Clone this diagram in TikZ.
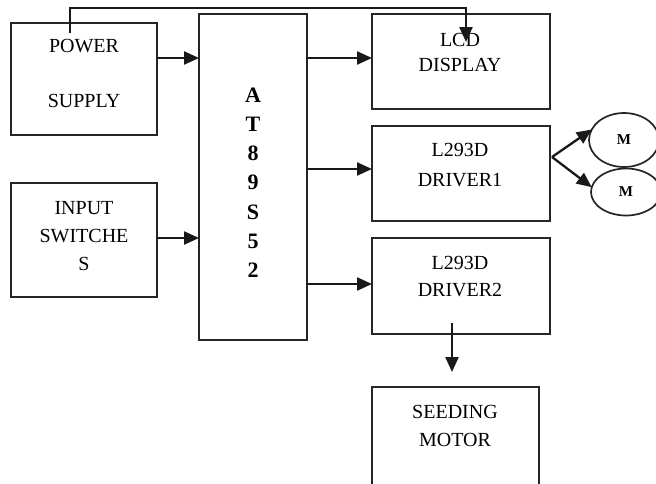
\documentclass[tikz,border=0pt]{standalone}
\usepackage{fontspec}
\setmainfont{Liberation Serif}
\usetikzlibrary{arrows.meta,positioning,shapes.geometric}
\tikzset{
  blk/.style={
    rectangle, draw=black!85, line width=1.7pt, fill=white,
    inner sep=0pt, outer sep=0pt
  },
  motor/.style={
    ellipse, draw=black!85, line width=1.7pt, fill=white,
    inner sep=0pt, outer sep=0pt,
    font=\fontsize{15}{15}\selectfont\bfseries
  },
  txt/.style={font=\fontsize{20}{#1}\selectfont, align=center,
    anchor=base, inner sep=0pt},
  mcutxt/.style={font=\fontsize{22}{22}\selectfont\bfseries,
    anchor=base, inner sep=0pt},
  flow/.style={-{Triangle[length=15pt,width=13pt]}, line width=2.3pt,
    draw=black!90}
}

\begin{document}
\begin{tikzpicture}[x=1pt, y=-1pt]
  \clip (0,0) rectangle (656,483);

  % blocks
  \node[blk, minimum width=146, minimum height=112] (power) at (84,79) {};
  \node[blk, minimum width=146, minimum height=114] (input) at (84,240) {};
  \node[blk, minimum width=108, minimum height=326] (mcu) at (253,177) {};
  \node[blk, minimum width=178, minimum height=95] (lcd) at (461,61.5) {};
  \node[blk, minimum width=178, minimum height=95] (drv1) at (461,173.5) {};
  \node[blk, minimum width=178, minimum height=96] (drv2) at (461,286) {};
  \node[blk, minimum width=167, minimum height=113] (seed) at (455.5,443.5) {};

  % motors
  \node[motor, minimum width=70, minimum height=54] (m1) at (624,140) {M};
  \node[motor, minimum width=70, minimum height=47] (m2) at (626,192) {M};

  % texts (base = last line)
  \node[txt=55] (power-t) at (84,107) {POWER\\SUPPLY};
  \node[txt=28] (input-t) at (84,270) {INPUT\\SWITCHE\\S};
  \node[txt=25] (lcd-t) at (460,71.7) {LCD\\DISPLAY};
  \node[txt=30] (drv1-t) at (460,186.7) {L293D\\DRIVER1};
  \node[txt=27] (drv2-t) at (460,296) {L293D\\DRIVER2};
  \node[txt=27.7] (seed-t) at (455,446) {SEEDING\\MOTOR};
  \foreach \ch [count=\i from 0] in {A,T,8,9,S,5,2}
    \node[mcutxt] (mcu-\i) at (253,102.3+29.2*\i) {\ch};

  % connections
  \draw[flow] ([yshift=21pt]power.east) -- ([yshift=21pt]power.east -| mcu.west);
  \draw[flow] ([yshift=2pt]input.east) -- ([yshift=2pt]input.east -| mcu.west);
  \draw[flow] ([yshift=3.5pt]lcd.west -| mcu.east) -- ([yshift=3.5pt]lcd.west);
  \draw[flow] ([yshift=4.5pt]drv1.west -| mcu.east) -- ([yshift=4.5pt]drv1.west);
  \draw[flow] ([yshift=2pt]drv2.west -| mcu.east) -- ([yshift=2pt]drv2.west);
  \draw[flow] ([xshift=-14pt,yshift=-10pt]power.north) -- ++(0,-25)
    -| ([xshift=5pt,yshift=-28pt]lcd.north);
  \draw[flow] ([xshift=2pt,yshift=16.5pt]drv1.east) -- (m1.162);
  \draw[flow] ([xshift=2pt,yshift=16.5pt]drv1.east) -- (m2.172);
  \draw[flow, shorten >=4pt] ([xshift=-9pt,yshift=11pt]drv2.south)
    -- ([xshift=-9pt,yshift=11pt]drv2.south |- seed.north);
\end{tikzpicture}
\end{document}
